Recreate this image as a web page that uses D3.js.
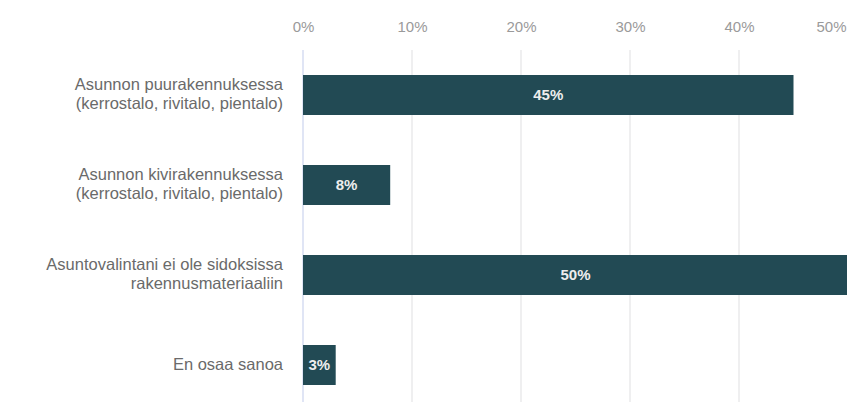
<!DOCTYPE html>
<html>
<head>
<meta charset="utf-8">
<script src="https://cdn.jsdelivr.net/npm/d3@7/dist/d3.min.js"></script>
<style>
  html, body { margin: 0; padding: 0; background: #fff; }
  svg { display: block; font-family: "Liberation Sans", Arial, sans-serif; }
</style>
</head>
<body>
<svg id="chart" width="847" height="402"></svg>
<script>
// Survey answers: preferred building material of one's home
const categories = [
  ["Asunnon puurakennuksessa", "(kerrostalo, rivitalo, pientalo)"],
  ["Asunnon kivirakennuksessa", "(kerrostalo, rivitalo, pientalo)"],
  ["Asuntovalintani ei ole sidoksissa", "rakennusmateriaaliin"],
  ["En osaa sanoa"]
];
const values = [45, 8, 50, 3];
const tickValues = [0, 10, 20, 30, 40, 50];
const tickLabels = ["0%", "10%", "20%", "30%", "40%", "50%"];

const svg = d3.select("#chart");
const width = 847, height = 402;
const margin = { left: 303, right: -1 };

const x = d3.scaleLinear().domain([0, 50]).range([margin.left, width - margin.right]);
const y = d3.scaleBand()
  .domain(d3.range(categories.length))
  .range([50, 410])
  .paddingInner(0.5556)
  .paddingOuter(0.2778);

// vertical gridlines
svg.append("g")
  .selectAll("line")
  .data(tickValues.slice(1))
  .join("line")
  .attr("x1", d => x(d)).attr("x2", d => x(d))
  .attr("y1", 50).attr("y2", height)
  .attr("stroke", "#e6e6e8")
  .attr("stroke-width", 1.3);

// baseline at 0%
svg.append("line")
  .attr("x1", x(0)).attr("x2", x(0))
  .attr("y1", 50).attr("y2", height)
  .attr("stroke", "#d6dcf2")
  .attr("stroke-width", 1.5);

// top axis labels
const axis = d3.axisTop(x)
  .tickValues(tickValues)
  .tickFormat((d, i) => tickLabels[i])
  .tickSize(0)
  .tickPadding(0);
const axisG = svg.append("g").attr("transform", "translate(0,31.5)").call(axis);
axisG.select(".domain").remove();
axisG.selectAll("text")
  .attr("fill", "#9a9a9a")
  .attr("font-size", 15)
  .attr("font-family", "Liberation Sans, Arial, sans-serif");
// keep the last label inside the drawing area
axisG.selectAll(".tick").filter(d => d === 50).select("text")
  .attr("text-anchor", "end")
  .attr("x", width - 1 - x(50));

// bars
svg.append("g")
  .selectAll("rect")
  .data(values)
  .join("rect")
  .attr("x", x(0))
  .attr("y", (d, i) => y(i))
  .attr("width", d => x(d) - x(0))
  .attr("height", y.bandwidth())
  .attr("fill", "#224a54");

// value labels inside bars
svg.append("g")
  .selectAll("text")
  .data(values)
  .join("text")
  .attr("x", d => (x(0) + x(d)) / 2)
  .attr("y", (d, i) => y(i) + y.bandwidth() / 2)
  .attr("dy", "0.36em")
  .attr("text-anchor", "middle")
  .attr("fill", "#eeeeee")
  .attr("font-size", 15)
  .attr("font-weight", "bold")
  .text(d => d + "%");

// category labels
const labelG = svg.append("g");
categories.forEach((lines, i) => {
  const cy = y(i) + y.bandwidth() / 2;
  const lh = 19;
  const t = labelG.append("text")
    .attr("text-anchor", "end")
    .attr("fill", "#6a6a6a")
    .attr("font-size", 16.5);
  lines.forEach((line, j) => {
    t.append("tspan")
      .attr("x", 283)
      .attr("y", cy + (j - (lines.length - 1) / 2) * lh - 1)
      .attr("dy", "0.36em")
      .text(line);
  });
});
</script>
</body>
</html>
